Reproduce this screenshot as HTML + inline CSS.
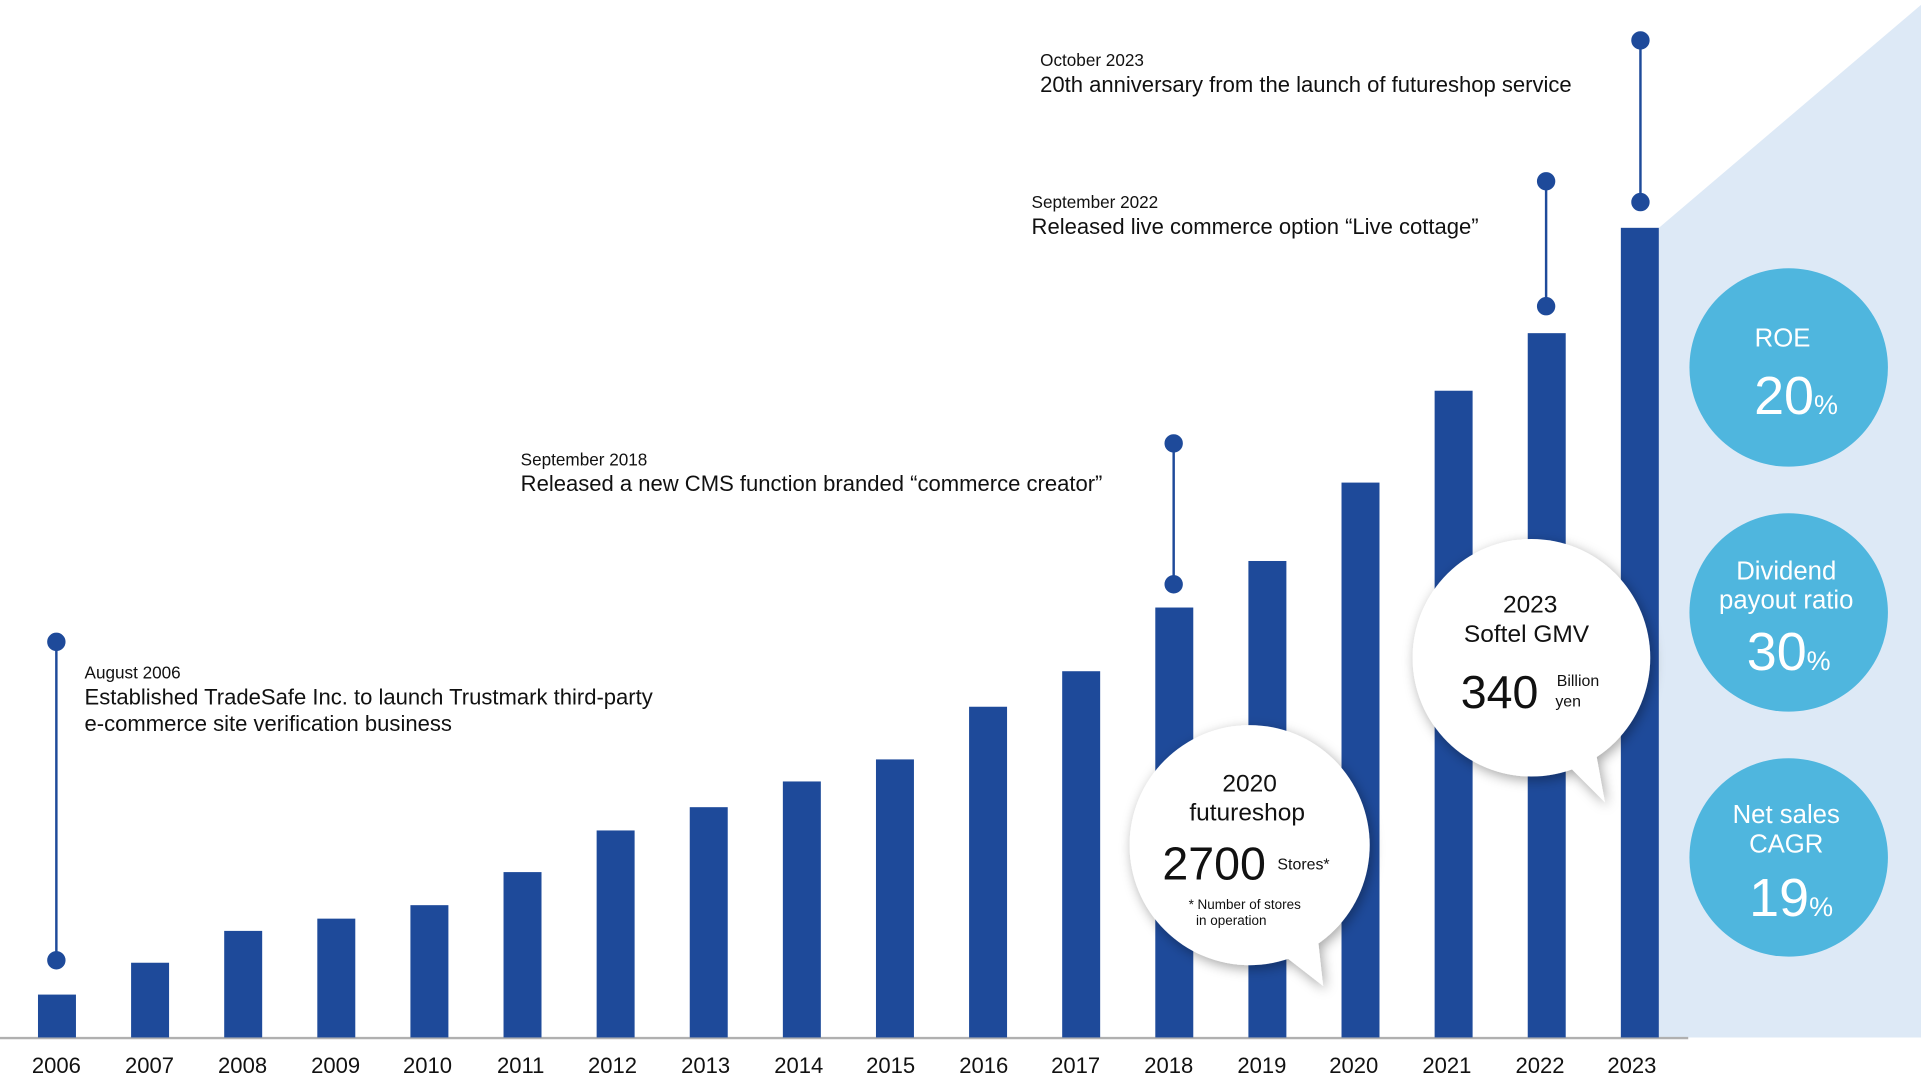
<!DOCTYPE html>
<html><head><meta charset="utf-8"><style>
html,body{margin:0;padding:0;background:#fff;}
svg{display:block;}
text{font-family:"Liberation Sans",sans-serif;}
</style></head><body>
<svg width="1921" height="1084" viewBox="0 0 1568 885" preserveAspectRatio="none" xmlns="http://www.w3.org/2000/svg">
<defs>
<filter id="sh" x="-30%" y="-30%" width="160%" height="160%"><feDropShadow dx="2" dy="3" stdDeviation="5" flood-color="#000" flood-opacity="0.35"/></filter>
</defs>
<polygon points="1354,186 1568,4 1568,847 1354,847" fill="#dde9f6"/>
<line x1="0" y1="847.5" x2="1378" y2="847.5" stroke="#b0b0b0" stroke-width="2"/>
<g fill="#1e4a9a">
<rect x="31" y="812" width="31" height="35"/>
<rect x="107" y="786" width="31" height="61"/>
<rect x="183" y="760" width="31" height="87"/>
<rect x="259" y="750" width="31" height="97"/>
<rect x="335" y="739" width="31" height="108"/>
<rect x="411" y="712" width="31" height="135"/>
<rect x="487" y="678" width="31" height="169"/>
<rect x="563" y="659" width="31" height="188"/>
<rect x="639" y="638" width="31" height="209"/>
<rect x="715" y="620" width="31" height="227"/>
<rect x="791" y="577" width="31" height="270"/>
<rect x="867" y="548" width="31" height="299"/>
<rect x="943" y="496" width="31" height="351"/>
<rect x="1019" y="458" width="31" height="389"/>
<rect x="1095" y="394" width="31" height="453"/>
<rect x="1171" y="319" width="31" height="528"/>
<rect x="1247" y="272" width="31" height="575"/>
<rect x="1323" y="186" width="31" height="661"/>
</g>
<g font-size="18" fill="#111" text-anchor="middle">
<text x="46" y="876">2006</text><text x="122" y="876">2007</text><text x="198" y="876">2008</text><text x="274" y="876">2009</text><text x="349" y="876">2010</text><text x="425" y="876">2011</text><text x="500" y="876">2012</text><text x="576" y="876">2013</text><text x="652" y="876">2014</text><text x="727" y="876">2015</text><text x="803" y="876">2016</text><text x="878" y="876">2017</text><text x="954" y="876">2018</text><text x="1030" y="876">2019</text><text x="1105" y="876">2020</text><text x="1181" y="876">2021</text><text x="1257" y="876">2022</text><text x="1332" y="876">2023</text>
</g>
<g stroke="#1e4a9a" stroke-width="2" fill="#1e4a9a">
<line x1="46" y1="524" x2="46" y2="784"/><circle cx="46" cy="524" r="6.5"/><circle cx="46" cy="784" r="6.5"/>
<line x1="958" y1="362" x2="958" y2="477"/><circle cx="958" cy="362" r="6.5"/><circle cx="958" cy="477" r="6.5"/>
<line x1="1262" y1="148" x2="1262" y2="250"/><circle cx="1262" cy="148" r="6.5"/><circle cx="1262" cy="250" r="6.5"/>
<line x1="1339" y1="33" x2="1339" y2="165"/><circle cx="1339" cy="33" r="6.5"/><circle cx="1339" cy="165" r="6.5"/>
</g>
<g fill="#111">
<text x="69" y="554" font-size="14">August 2006</text>
<text x="69" y="575" font-size="18">Established TradeSafe Inc. to launch Trustmark third-party</text>
<text x="69" y="597" font-size="18">e-commerce site verification business</text>
<text x="425" y="380" font-size="14">September 2018</text>
<text x="425" y="401" font-size="18">Released a new CMS function branded “commerce creator”</text>
<text x="842" y="170" font-size="14">September 2022</text>
<text x="842" y="191" font-size="18">Released live commerce option “Live cottage”</text>
<text x="849" y="54" font-size="14">October 2023</text>
<text x="849" y="75" font-size="18">20th anniversary from the launch of futureshop service</text>
</g>
<g fill="#4fb6de">
<circle cx="1460" cy="300" r="81"/><circle cx="1460" cy="500" r="81"/><circle cx="1460" cy="700" r="81"/>
</g>
<g fill="#fff" text-anchor="middle">
<text x="1455" y="283" font-size="21">ROE</text>
<text x="1466" y="338" font-size="44">20<tspan font-size="22">%</tspan></text>
<text x="1458" y="473" font-size="21">Dividend</text>
<text x="1458" y="497" font-size="21">payout ratio</text>
<text x="1460" y="547" font-size="44">30<tspan font-size="22">%</tspan></text>
<text x="1458" y="672" font-size="21">Net sales</text>
<text x="1458" y="696" font-size="21">CAGR</text>
<text x="1462" y="748" font-size="44">19<tspan font-size="22">%</tspan></text>
</g>
<g filter="url(#sh)" fill="#fff">
<g><circle cx="1020" cy="690" r="98"/><polygon points="1035,770 1080,805 1075,760"/></g>
<g><circle cx="1250" cy="537" r="97"/><polygon points="1270,615 1310,655 1300,600"/></g>
</g>
<g fill="#111" text-anchor="middle">
<text x="1020" y="646" font-size="20">2020</text>
<text x="1018" y="670" font-size="20">futureshop</text>
<text x="991" y="718" font-size="38">2700</text>
<text x="1064" y="710" font-size="13">Stores*</text>
<text x="1016" y="742" font-size="11">* Number of stores</text>
<text x="1005" y="755" font-size="11">in operation</text>
<text x="1249" y="500" font-size="20">2023</text>
<text x="1246" y="524" font-size="20">Softel GMV</text>
<text x="1224" y="578" font-size="38">340</text>
<text x="1288" y="560" font-size="13">Billion</text>
<text x="1280" y="577" font-size="13">yen</text>
</g>
</svg>
</body></html>
